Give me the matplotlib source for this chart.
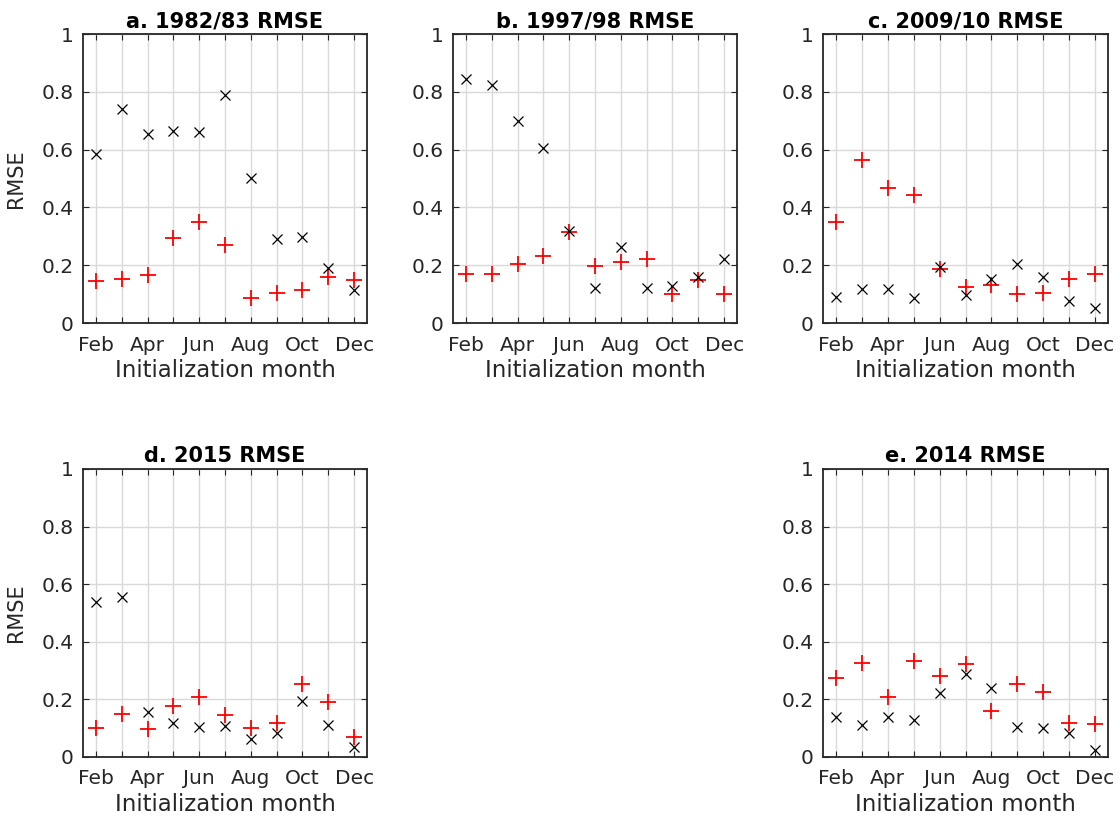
import numpy as np
import matplotlib
matplotlib.use("Agg")
import matplotlib.pyplot as plt

# initialization months Feb..Dec (month numbers 2..12)
months = np.arange(2, 13)
month_labels = ["Feb", "", "Apr", "", "Jun", "", "Aug", "", "Oct", "", "Dec"]

# black crosses
rmse_x_8283 = [0.586, 0.739, 0.653, 0.664, 0.662, 0.790, 0.503, 0.291, 0.299, 0.191, 0.114]
rmse_x_9798 = [0.844, 0.825, 0.698, 0.604, 0.320, 0.121, 0.262, 0.121, 0.127, 0.158, 0.222]
rmse_x_0910 = [0.089, 0.119, 0.119, 0.085, 0.195, 0.096, 0.151, 0.205, 0.160, 0.076, 0.053]
rmse_x_2015 = [0.537, 0.554, 0.155, 0.118, 0.103, 0.109, 0.064, 0.084, 0.195, 0.112, 0.036]
rmse_x_2014 = [0.139, 0.111, 0.140, 0.128, 0.222, 0.289, 0.238, 0.105, 0.102, 0.084, 0.024]

# red plus signs
rmse_p_8283 = [0.144, 0.151, 0.165, 0.293, 0.348, 0.269, 0.085, 0.105, 0.115, 0.159, 0.148]
rmse_p_9798 = [0.170, 0.171, 0.203, 0.231, 0.314, 0.197, 0.212, 0.222, 0.101, 0.149, 0.101]
rmse_p_0910 = [0.348, 0.565, 0.466, 0.444, 0.188, 0.125, 0.133, 0.102, 0.104, 0.151, 0.171]
rmse_p_2015 = [0.099, 0.148, 0.096, 0.177, 0.210, 0.147, 0.100, 0.119, 0.253, 0.192, 0.070]
rmse_p_2014 = [0.276, 0.327, 0.209, 0.333, 0.281, 0.324, 0.161, 0.252, 0.224, 0.117, 0.113]

W, H = 1120, 821
fig = plt.figure(figsize=(W / 100, H / 100), dpi=100)


def panel(x0, x1, y0, y1, title, xs, ps, ylabel):
    # box given in pixel coordinates from the top-left corner
    ax = fig.add_axes([x0 / W, 1 - y1 / H, (x1 - x0) / W, (y1 - y0) / H])
    ax.plot(months, ps, linestyle="none", marker="+", color="red",
            markersize=11, markeredgewidth=1.3)
    ax.plot(months, xs, linestyle="none", marker="x", color="black",
            markersize=7.5, markeredgewidth=0.9)
    ax.set_xlim(1.5, 12.5)
    ax.set_ylim(0, 1)
    ax.set_xticks(months)
    ax.set_xticklabels(month_labels)
    ax.set_yticks([0, 0.2, 0.4, 0.6, 0.8, 1.0])
    ax.set_yticklabels(["0", "0.2", "0.4", "0.6", "0.8", "1"])
    ax.grid(True, color="#d9d9d9", linewidth=1.0)
    ax.set_axisbelow(True)
    ax.tick_params(direction="in", top=True, right=True, length=4,
                   labelsize=14.5, colors="#262626", width=0.8)
    ax.tick_params(axis="x", pad=9)
    ax.tick_params(axis="y", pad=7)
    for s in ax.spines.values():
        s.set_color("#262626")
        s.set_linewidth(1.3)
    ax.set_title(title, fontsize=15, fontweight="bold", pad=5)
    ax.set_xlabel("Initialization month", fontsize=16.5, color="#262626", labelpad=3)
    if ylabel:
        ax.set_ylabel("RMSE", fontsize=15, color="#262626", labelpad=11)
    return ax


panel(83, 367, 34, 323, "a. 1982/83 RMSE", rmse_x_8283, rmse_p_8283, True)
panel(453, 737, 34, 323, "b. 1997/98 RMSE", rmse_x_9798, rmse_p_9798, False)
panel(823, 1108, 34, 323, "c. 2009/10 RMSE", rmse_x_0910, rmse_p_0910, False)
panel(83, 367, 469, 757, "d. 2015 RMSE", rmse_x_2015, rmse_p_2015, True)
panel(823, 1108, 469, 757, "e. 2014 RMSE", rmse_x_2014, rmse_p_2014, False)

fig.savefig("out.png", dpi=100)
